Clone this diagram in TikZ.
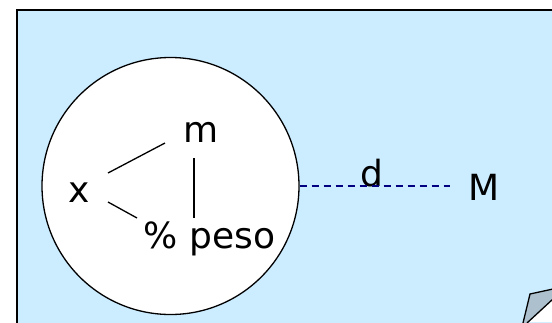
\documentclass[tikz,border=0pt]{standalone}
\usepackage{fontspec}
\setmainfont{DejaVu Sans}
\usepackage{xcolor}
\usetikzlibrary{calc,positioning}
\definecolor{skyfill}{RGB}{204,236,255}
\definecolor{curlgray}{RGB}{172,192,206}
\definecolor{navyline}{RGB}{0,0,128}

\begin{document}
\begin{tikzpicture}[
  x=1pt,y=-1pt,
  font=\fontsize{36}{40}\selectfont,
  lbl/.style={inner sep=0pt,anchor=base},
  link/.style={line width=1.3pt,black},
  gap/.style={line width=1.3pt,navyline,dash pattern=on 7pt off 5pt}
]
  \useasboundingbox (0,0) rectangle (552,322);
  \fill[white] (0,0) rectangle (552,322);
  \draw[line width=2pt,fill=skyfill] (16.5,9.5) rectangle (570,340);

  \node[circle,draw,line width=1.3pt,fill=white,minimum size=257pt,inner sep=0pt] (sample) at (170.5,186) {};

  \node[lbl] (m) at (201,142) {m};
  \node[lbl] (x) at (79,202) {x};
  \node[lbl] (peso) at (209.5,248) {\% peso};
  \node[lbl] (d) at (372,186) {d};
  \node[lbl] (M) at (484,200) {M};

  \coordinate (xm) at (108,173);
  \coordinate (mx) at (165,143);
  \coordinate (xp) at (108,202);
  \coordinate (px) at (137,218);
  \coordinate (mp) at (194,158);
  \coordinate (pm) at (194,218);
  \coordinate (gapend) at (450,186);

  \draw[link] (xm) -- (mx);
  \draw[link] (xp) -- (px);
  \draw[link] (mp) -- (pm);
  \draw[gap] (sample.east) -- (gapend);

  % folded corner
  \fill[white] (527,322) -- (552,300) -- (552,322) -- cycle;
  \draw[line width=1.3pt,fill=curlgray] (523,323) -- (530,294) -- (553,289) -- (553,299) -- (527,323);
\end{tikzpicture}
\end{document}
